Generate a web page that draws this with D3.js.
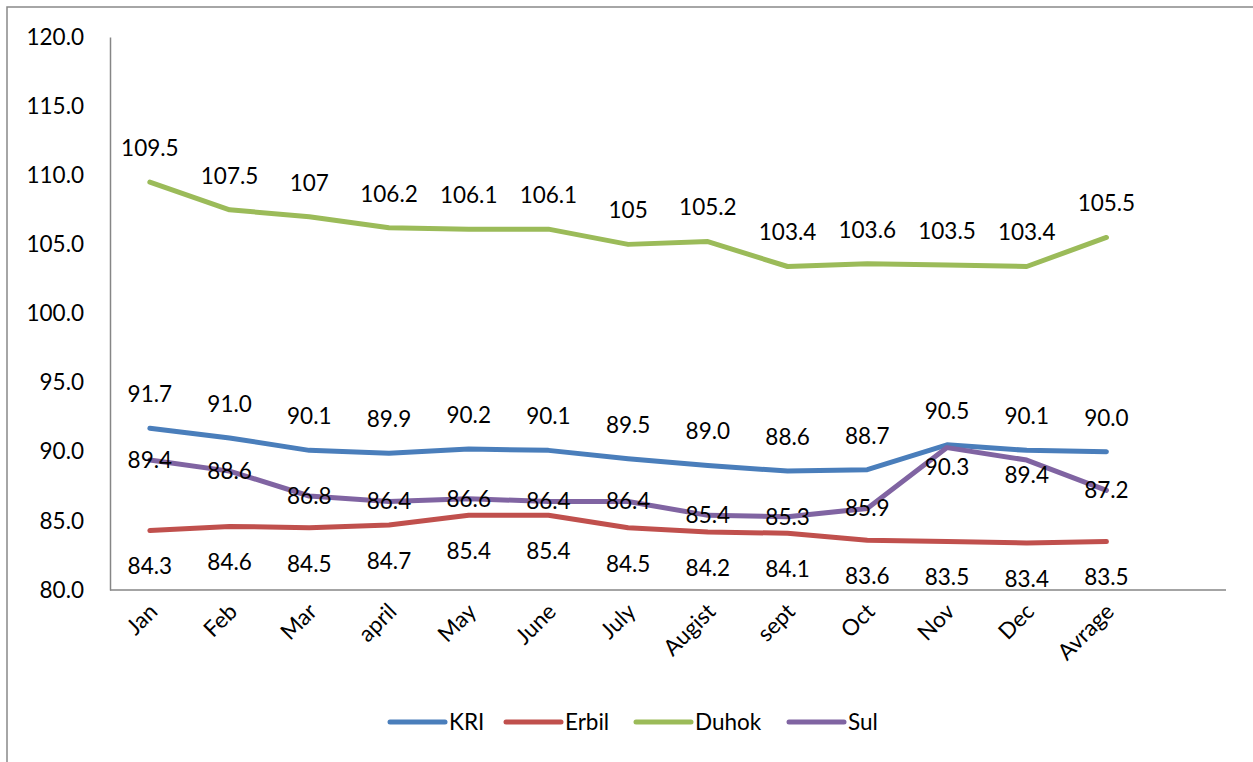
<!DOCTYPE html>
<html>
<head>
<meta charset="utf-8">
<script src="https://cdn.jsdelivr.net/npm/d3@7"></script>
<style>
  body { margin: 0; background: #fff; }
  text { font-family: Lato, "Open Sans", sans-serif; fill: #000; }
</style>
</head>
<body>
<div id="plot"></div>
<script>
// months as written on the sheet
var months = ["Jan", "Feb", "Mar", "april", "May", "June", "July", "Augist", "sept", "Oct", "Nov", "Dec", "Avrage"];

var kri   = [91.7, 91.0, 90.1, 89.9, 90.2, 90.1, 89.5, 89.0, 88.6, 88.7, 90.5, 90.1, 90.0];
var erbil = [84.3, 84.6, 84.5, 84.7, 85.4, 85.4, 84.5, 84.2, 84.1, 83.6, 83.5, 83.4, 83.5];
var duhok = [109.5, 107.5, 107, 106.2, 106.1, 106.1, 105, 105.2, 103.4, 103.6, 103.5, 103.4, 105.5];
var sul   = [89.4, 88.6, 86.8, 86.4, 86.6, 86.4, 86.4, 85.4, 85.3, 85.9, 90.3, 89.4, 87.2];

var yTicks = [80, 85, 90, 95, 100, 105, 110, 115, 120];

window.addEventListener('load', main);

function main(){
  var W = 1253, H = 762;
  var left = 110, right = 1226, top = 37, bottom = 590;
  var step = (right - left) / 14;
  var fs = '22.5px';

  var series = [
    {name: "KRI",   values: kri,   color: "#4a7ebb", fmt: d3.format(".1f"), pos: "above"},
    {name: "Erbil", values: erbil, color: "#c0504d", fmt: d3.format(".1f"), pos: "below"},
    {name: "Duhok", values: duhok, color: "#9bbb59", fmt: d => String(d),   pos: "above"},
    {name: "Sul",   values: sul,   color: "#8064a2", fmt: d => String(d),   pos: "center"}
  ];
  // a couple of Sul labels were dragged down in the original
  var sulNudge = {10: 20, 11: 15};

  var x = d3.scaleBand().domain(months).range([left, left + step * 13]);
  var y = d3.scaleLinear().domain([80, 120]).range([bottom, top]);
  var cx = d => x(d) + x.bandwidth() / 2;

  var svg = d3.select('#plot').append('svg')
    .attr('width', W).attr('height', H);

  // chart border (cut off at right/bottom in the original)
  svg.append('rect')
    .attr('x', 7).attr('y', 7).attr('width', W + 20).attr('height', H + 20)
    .attr('fill', 'none').attr('stroke', '#898989').attr('stroke-width', 1.5);

  // y axis
  var yAxis = d3.axisLeft(y).tickValues(yTicks).tickFormat(d3.format(".1f")).tickSize(0).tickPadding(26);
  var gy = svg.append('g').attr('transform', 'translate(' + left + ',0)').call(yAxis);
  gy.select('.domain').attr('stroke', '#868686').attr('stroke-width', 1.5);
  gy.selectAll('text').style('font-size', fs).style('font-family', 'Lato, sans-serif').attr('fill', '#000');

  // x axis
  var xAxis = d3.axisBottom(x).tickSize(0).tickPadding(0);
  var gx = svg.append('g').attr('transform', 'translate(0,' + bottom + ')').call(xAxis);
  gx.select('.domain').remove();
  svg.append('line')
    .attr('x1', left).attr('x2', right).attr('y1', bottom).attr('y2', bottom)
    .attr('stroke', '#868686').attr('stroke-width', 1.5);
  gx.selectAll('.tick text')
    .style('font-size', fs).style('font-family', 'Lato, sans-serif').attr('fill', '#000')
    .attr('text-anchor', 'end')
    .attr('dy', 0)
    .attr('transform', 'translate(9,23) rotate(-45)');

  var line = d3.line()
    .x((d, i) => cx(months[i]))
    .y(d => y(d));

  series.forEach(function(s){
    svg.append('path')
      .datum(s.values)
      .attr('d', line)
      .attr('fill', 'none')
      .attr('stroke', s.color)
      .attr('stroke-width', 5)
      .attr('stroke-linejoin', 'round')
      .attr('stroke-linecap', 'round');
  });

  series.forEach(function(s){
    svg.append('g').selectAll('text')
      .data(s.values)
      .join('text')
      .attr('x', (d, i) => cx(months[i]))
      .attr('y', function(d, i){
        var off = s.pos === "above" ? -34 : s.pos === "below" ? 36 : 0;
        if (s.name === "Sul" && sulNudge[i]) off += sulNudge[i];
        return y(d) + off;
      })
      .attr('dy', '0.35em')
      .attr('text-anchor', 'middle')
      .style('font-size', fs)
      .text(d => s.fmt(d));
  });

  // legend
  var legX = [390, 506, 636, 789];
  var leg = svg.append('g').selectAll('g')
    .data(series)
    .join('g')
    .attr('transform', (d, i) => 'translate(' + legX[i] + ',722)');
  leg.append('line')
    .attr('x1', 0).attr('x2', 55)
    .attr('stroke', d => d.color).attr('stroke-width', 5).attr('stroke-linecap', 'round');
  leg.append('text')
    .attr('x', 59).attr('dy', '0.35em')
    .style('font-size', fs)
    .text(d => d.name);
}
</script>
</body>
</html>
